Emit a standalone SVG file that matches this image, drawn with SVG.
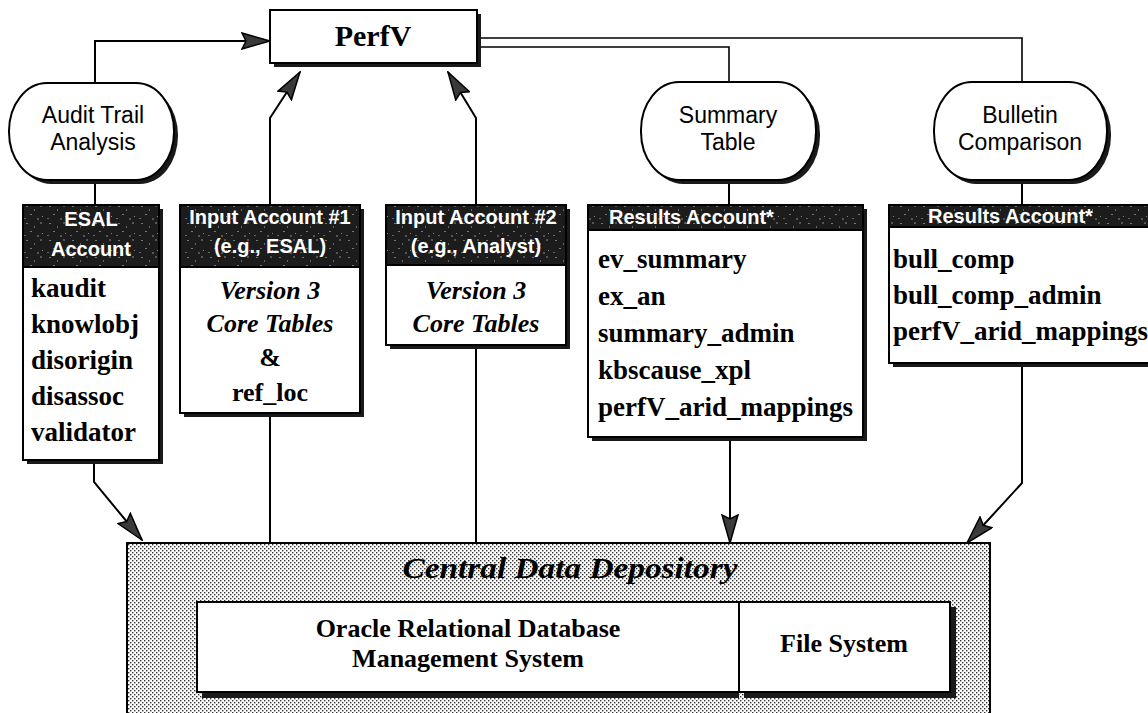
<svg xmlns="http://www.w3.org/2000/svg" width="1148" height="713" viewBox="0 0 1148 713">
<defs>
<style>
.box{fill:#fff;stroke:#000;stroke-width:2}
.shd{fill:#1a1a1a}
.hdr{fill:url(#speck);stroke:#000;stroke-width:2}
.ht{font-family:"Liberation Sans",Arial,sans-serif;font-weight:bold;font-size:20px;fill:#fff}
.ov{font-family:"Liberation Sans",Arial,sans-serif;font-size:23px;fill:#000;text-anchor:middle}
.it{font-family:"Liberation Serif","Times New Roman",serif;font-weight:bold;font-size:27px;fill:#000}
.iti{font-family:"Liberation Serif","Times New Roman",serif;font-weight:bold;font-style:italic;font-size:26px;fill:#000;text-anchor:middle}
.big{font-family:"Liberation Serif","Times New Roman",serif;font-weight:bold;font-size:26px;fill:#000;text-anchor:middle}
.ln{fill:none;stroke:#000;stroke-width:2}
</style>
<pattern id="dots" width="4" height="4" patternUnits="userSpaceOnUse">
<rect width="4" height="4" fill="#fff"/>
<rect x="0" y="0" width="1.4" height="1.4" fill="#333"/>
<rect x="2" y="2" width="1.4" height="1.4" fill="#333"/>
</pattern>
<pattern id="speck" width="23" height="17" patternUnits="userSpaceOnUse">
<rect width="23" height="17" fill="#1c1c1c"/>
<rect x="3" y="2" width="2" height="1" fill="#777"/>
<rect x="11" y="5" width="1" height="2" fill="#666"/>
<rect x="17" y="1" width="2" height="2" fill="#555"/>
<rect x="7" y="10" width="2" height="1" fill="#777"/>
<rect x="19" y="12" width="1" height="1" fill="#888"/>
<rect x="1" y="14" width="2" height="1" fill="#666"/>
<rect x="14" y="14" width="2" height="2" fill="#555"/>
</pattern>
<marker id="ah" viewBox="0 0 30 18" refX="29" refY="9" markerWidth="30" markerHeight="18" markerUnits="userSpaceOnUse" orient="auto">
<path d="M1,1 L29,9 L1,17 L5,9 Z" fill="#3a3a3a" stroke="#000" stroke-width="1.5" stroke-linejoin="miter"/>
</marker>
</defs>

<g id="connectors">
<path class="ln" d="M95,83 V41 H270" marker-end="url(#ah)"/>
<path class="ln" d="M270,205 V118 L300,72" marker-end="url(#ah)"/>
<path class="ln" d="M476,205 V118 L448,72" marker-end="url(#ah)"/>
<path class="ln" style="stroke-width:1.6" d="M481,47 H729 V82"/>
<path class="ln" style="stroke-width:1.6" d="M481,38 H1022 V82"/>
<path class="ln" d="M95,183 V205"/>
<path class="ln" d="M729,183 V205"/>
<path class="ln" d="M1022,183 V205"/>
<path class="ln" d="M94,462 V482 L142,540" marker-end="url(#ah)"/>
<path class="ln" d="M270,415 V543"/>
<path class="ln" d="M476,347 V543"/>
<path class="ln" d="M730,440 V543" marker-end="url(#ah)"/>
<path class="ln" d="M1022,366 V483 L967,543" marker-end="url(#ah)"/>
</g>

<g id="perfv">
<rect class="shd" x="274" y="14" width="207" height="53"/>
<rect class="box" x="270" y="10" width="207" height="53"/>
<text class="big" x="373" y="46" style="font-size:30px">PerfV</text>
</g>

<g id="audit">
<rect class="shd" x="13" y="87" width="165" height="97" rx="38" ry="48"/>
<rect class="box" x="9" y="83" width="165" height="97" rx="38" ry="48"/>
<text class="ov" x="93" y="123">Audit Trail</text>
<text class="ov" x="93" y="150">Analysis</text>
</g>

<g id="summary">
<rect class="shd" x="645" y="86" width="175" height="98" rx="38" ry="48"/>
<rect class="box" x="641" y="82" width="175" height="98" rx="38" ry="48"/>
<text class="ov" x="728" y="123">Summary</text>
<text class="ov" x="728" y="150">Table</text>
</g>

<g id="bulletin">
<rect class="shd" x="938" y="86" width="173" height="98" rx="38" ry="48"/>
<rect class="box" x="934" y="82" width="173" height="98" rx="38" ry="48"/>
<text class="ov" x="1020" y="123">Bulletin</text>
<text class="ov" x="1020" y="150">Comparison</text>
</g>

<g id="esal">
<rect class="shd" x="27" y="209" width="136" height="255"/>
<rect class="hdr" x="23" y="205" width="136" height="62"/>
<rect class="box" x="23" y="267" width="136" height="193"/>
<text class="ht" x="91" y="226" text-anchor="middle">ESAL</text>
<text class="ht" x="91" y="256" text-anchor="middle">Account</text>
<text class="it" x="31" y="297">kaudit</text>
<text class="it" x="31" y="333">knowlobj</text>
<text class="it" x="31" y="369">disorigin</text>
<text class="it" x="31" y="405">disassoc</text>
<text class="it" x="31" y="441">validator</text>
</g>

<g id="input1">
<rect class="shd" x="184" y="209" width="180" height="208"/>
<rect class="hdr" x="180" y="205" width="180" height="62"/>
<rect class="box" x="180" y="267" width="180" height="146"/>
<text class="ht" x="270" y="224" text-anchor="middle">Input Account #1</text>
<text class="ht" x="270" y="253" text-anchor="middle">(e.g., ESAL)</text>
<text class="iti" x="270" y="299">Version 3</text>
<text class="iti" x="270" y="332">Core Tables</text>
<text class="big" x="270" y="366">&amp;</text>
<text class="big" x="270" y="401">ref_loc</text>
</g>

<g id="input2">
<rect class="shd" x="390" y="209" width="180" height="140"/>
<rect class="hdr" x="386" y="205" width="180" height="60"/>
<rect class="box" x="386" y="265" width="180" height="80"/>
<text class="ht" x="476" y="224" text-anchor="middle">Input Account #2</text>
<text class="ht" x="476" y="253" text-anchor="middle">(e.g., Analyst)</text>
<text class="iti" x="476" y="299">Version 3</text>
<text class="iti" x="476" y="332">Core Tables</text>
</g>

<g id="results1">
<rect class="shd" x="592" y="209" width="275" height="232"/>
<rect class="hdr" x="588" y="205" width="275" height="25"/>
<rect class="box" x="588" y="230" width="275" height="207"/>
<text class="ht" x="609" y="224">Results Account*</text>
<text class="it" x="598" y="268">ev_summary</text>
<text class="it" x="598" y="305">ex_an</text>
<text class="it" x="598" y="342">summary_admin</text>
<text class="it" x="598" y="379">kbscause_xpl</text>
<text class="it" x="598" y="416">perfV_arid_mappings</text>
</g>

<g id="results2">
<rect class="shd" x="893" y="209" width="270" height="158"/>
<rect class="hdr" x="889" y="205" width="270" height="22"/>
<rect class="box" x="889" y="227" width="270" height="136"/>
<text class="ht" x="928" y="223">Results Account*</text>
<text class="it" x="893" y="268">bull_comp</text>
<text class="it" x="893" y="304">bull_comp_admin</text>
<text class="it" x="893" y="340">perfV_arid_mappings</text>
</g>

<g id="central">
<rect x="127" y="543" width="863" height="180" fill="url(#dots)" stroke="#000" stroke-width="2"/>
<text x="570" y="578" text-anchor="middle" textLength="335" lengthAdjust="spacingAndGlyphs" style="font-family:'Liberation Serif','Times New Roman',serif;font-style:italic;font-weight:bold;font-size:29px">Central Data Depository</text>
</g>

<g id="oracle">
<rect class="shd" x="202" y="607" width="537" height="91"/>
<rect class="box" x="197" y="602" width="542" height="90"/>
<text class="big" x="468" y="637">Oracle Relational Database</text>
<text class="big" x="468" y="667">Management System</text>
</g>

<g id="filesystem">
<rect class="shd" x="744" y="607" width="212" height="91"/>
<rect class="box" x="739" y="602" width="211" height="90"/>
<text class="big" x="844" y="652">File System</text>
</g>
</svg>
